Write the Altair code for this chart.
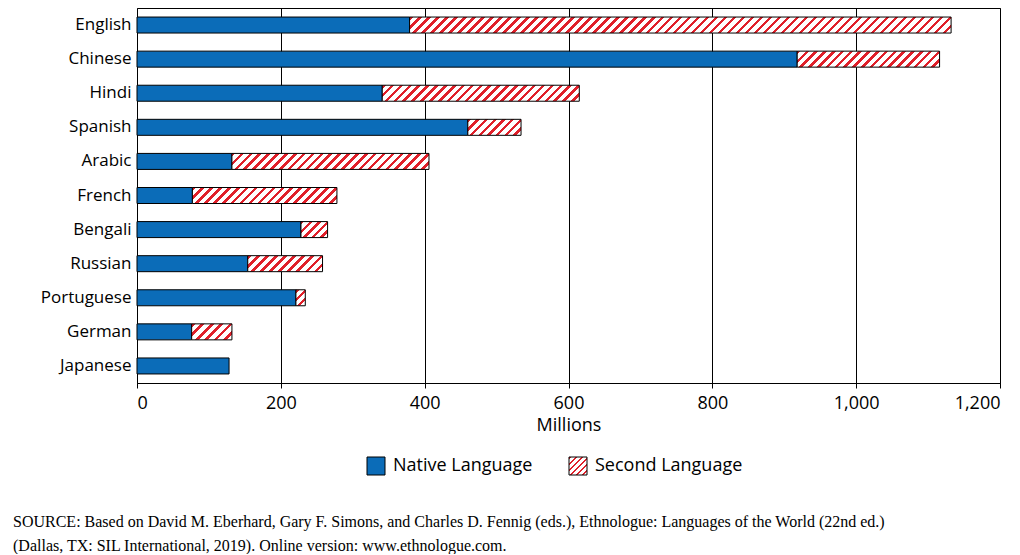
import altair as alt
import pandas as pd

languages = ["English", "Chinese", "Hindi", "Spanish", "Arabic", "French",
             "Bengali", "Russian", "Portuguese", "German", "Japanese"]
native = [379, 918, 341, 460, 132, 77, 228, 154, 221, 76, 128]
second = [753, 198, 274, 74, 274, 201, 37, 104, 13, 56, 0]

W, H, BAR = 863, 375, 16
BLUE = "#0b6cb8"
RED = "#e0202a"
FONT = "Open Sans"

df = pd.DataFrame({"lang": languages, "native": native, "second": second})
df["total"] = df["native"] + df["second"]


def hatch(w, h, period=9.0):
    # diagonal stripes as a hard-edged gradient over the bar's box
    a, b = w / (w + h), h / (w + h)
    n2 = a * a + b * b
    n = max(1, round((w + h) / period))
    stops = []
    for i in range(n):
        s, m, e = i / n, (i + 0.4) / n, (i + 1) / n
        stops += [{"offset": s, "color": RED}, {"offset": m, "color": RED},
                  {"offset": m, "color": "white"}, {"offset": e, "color": "white"}]
    return {"gradient": "linear", "x1": 0, "y1": 0,
            "x2": a / n2, "y2": b / n2, "stops": stops}


x_enc = alt.X("native:Q", scale=alt.Scale(domain=[0, 1200], nice=False),
              axis=alt.Axis(title="Millions", values=list(range(0, 1201, 200)),
                            labelExpr="format(datum.value, ',')",
                            grid=True, gridColor="black",
                            gridOpacity=1, labelFontSize=18, titleFontSize=18,
                            labelColor="black", titleColor="black",
                            titleFontWeight="normal", domainColor="black",
                            tickColor="black", labelPadding=6,
                            labelFont=FONT, titleFont=FONT))
y_enc = alt.Y("lang:N", sort=languages, title=None,
              axis=alt.Axis(labelFontSize=17, labelColor="black", ticks=False,
                            domain=False, labelFont=FONT, labelPadding=6))

base = alt.Chart(df)
layers = [base.mark_bar(color=BLUE, stroke="black", strokeWidth=1, size=BAR)
          .encode(x=x_enc, y=y_enc)]

for lang, nv, sv in zip(languages, native, second):
    if sv <= 0:
        continue
    wpx = sv * W / 1200
    layers.append(
        base.transform_filter(alt.datum.lang == lang)
        .mark_bar(stroke="black", strokeWidth=1, size=BAR)
        .encode(x="native:Q", x2="total:Q", y=alt.Y("lang:N", sort=languages),
                color=alt.value(hatch(wpx, BAR)))
    )

# legend and source note
leg = pd.DataFrame({"k": [0]})
lb = alt.Chart(leg)
layers += [
    lb.mark_rect(color=BLUE, stroke="black").encode(
        x=alt.value(230), x2=alt.value(248), y=alt.value(449), y2=alt.value(467)),
    lb.mark_text(text="Native Language", align="left", baseline="middle",
                 fontSize=18, font=FONT).encode(x=alt.value(256), y=alt.value(458)),
    lb.mark_rect(stroke="black", color=alt.Gradient(**hatch(18, 18, 6))).encode(
        x=alt.value(432), x2=alt.value(450), y=alt.value(449), y2=alt.value(467)),
    lb.mark_text(text="Second Language", align="left", baseline="middle",
                 fontSize=18, font=FONT).encode(x=alt.value(458), y=alt.value(458)),
    lb.mark_text(text="SOURCE: Based on David M. Eberhard, Gary F. Simons, and Charles D. Fennig (eds.), "
                      "Ethnologue: Languages of the World (22nd ed.)",
                 align="left", fontSize=16, font="Liberation Serif").encode(
        x=alt.value(-124), y=alt.value(514)),
    lb.mark_text(text="(Dallas, TX: SIL International, 2019). Online version: www.ethnologue.com.",
                 align="left", fontSize=16, font="Liberation Serif").encode(
        x=alt.value(-124), y=alt.value(538)),
]

chart = alt.layer(*layers).properties(
    width=W, height=H,
    padding={"left": 5, "top": 0, "right": 5, "bottom": 0},
).configure_view(stroke="black", strokeWidth=1)

chart.save("out.html", embed_options={"renderer": "svg", "actions": False})
